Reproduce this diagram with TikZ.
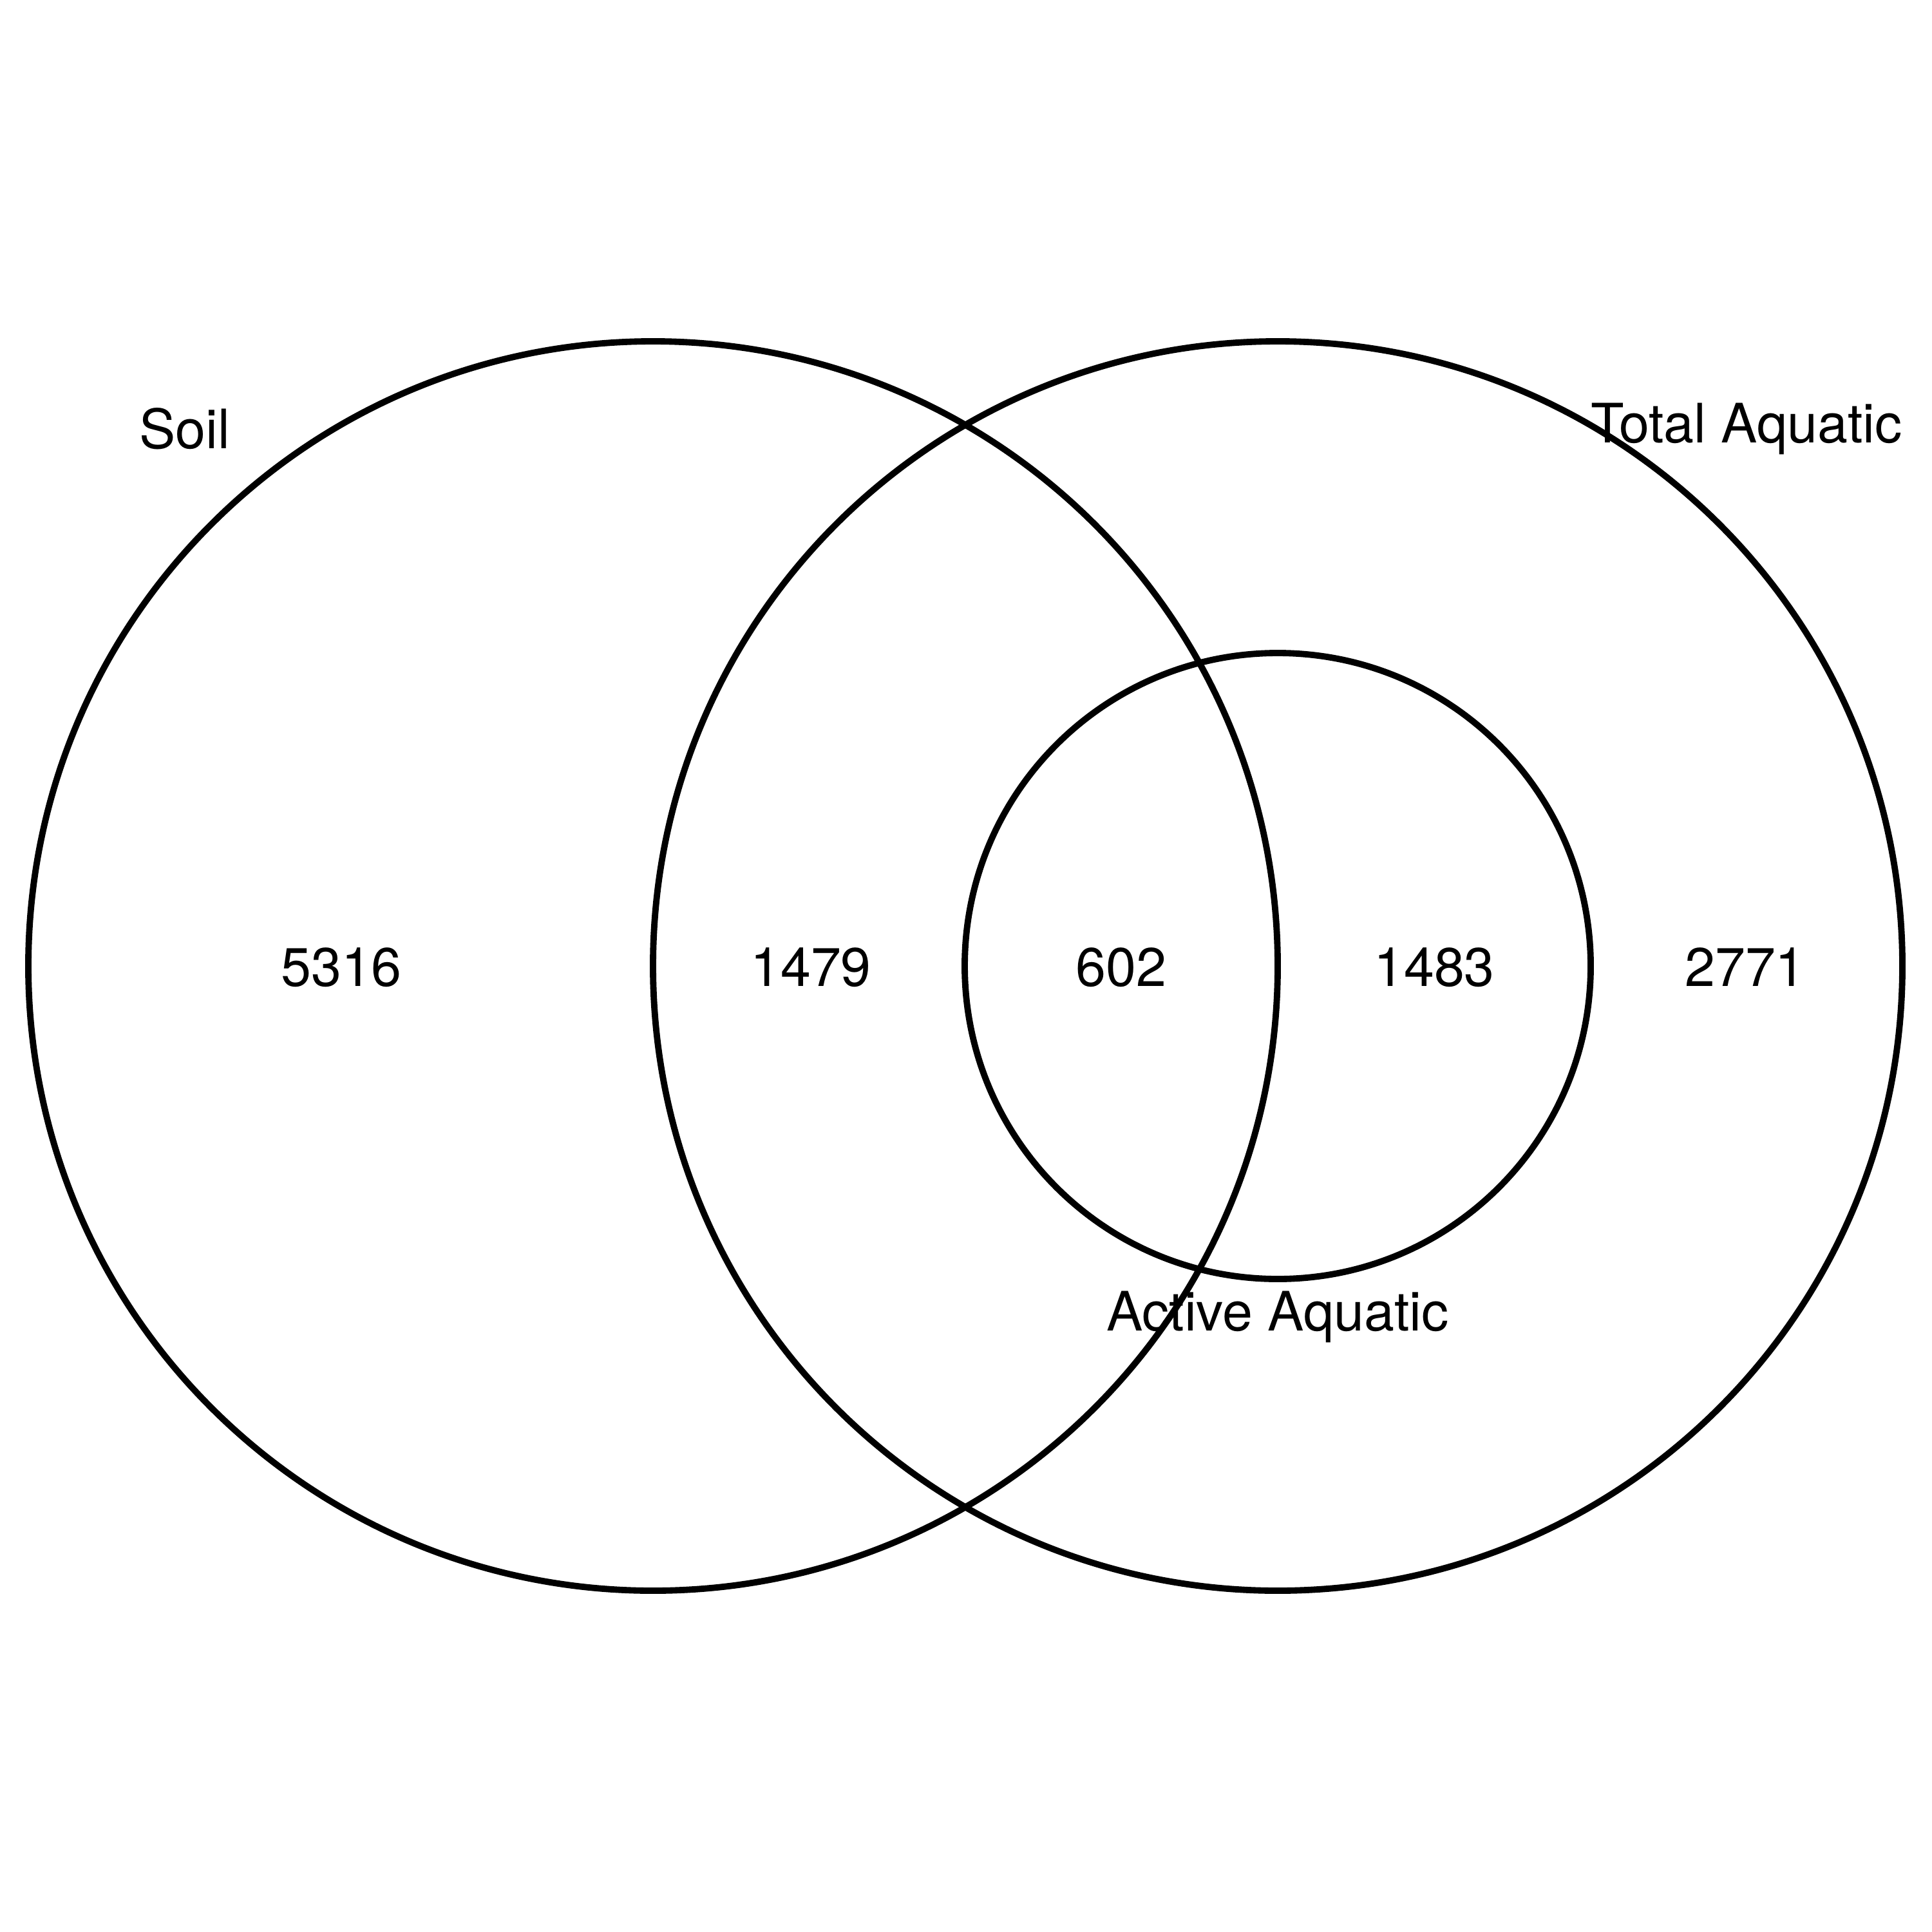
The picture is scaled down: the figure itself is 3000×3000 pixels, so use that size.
\documentclass[tikz,border=0pt]{standalone}
\usepackage{fontspec}
\setmainfont{TeX Gyre Heros}
\begin{document}
\begin{tikzpicture}[x=0.01cm,y=-0.01cm,
  ring/.style={draw=black,line width=2.8pt,fill=none},
  lbl/.style={font=\fontsize{24}{28}\selectfont,inner sep=0pt}]
\useasboundingbox (0,0) rectangle (3000,3000);
\draw[ring] (1014,1500) circle[radius=970];
\draw[ring] (1984,1500) circle[radius=970];
\draw[ring] (1984,1500) circle[radius=486];
\node[lbl] (soil) at (287,666) {Soil};
\node[lbl] (total) at (2712,666) {Total Aquatic};
\node[lbl] (active) at (1984,2045) {Active Aquatic};
\node[lbl] (n1) at (530,1502) {5316};
\node[lbl] (n2) at (1259,1502) {1479};
\node[lbl] (n3) at (1741,1502) {602};
\node[lbl] (n4) at (2227,1502) {1483};
\node[lbl] (n5) at (2710,1502) {2771};
\end{tikzpicture}
\end{document}
